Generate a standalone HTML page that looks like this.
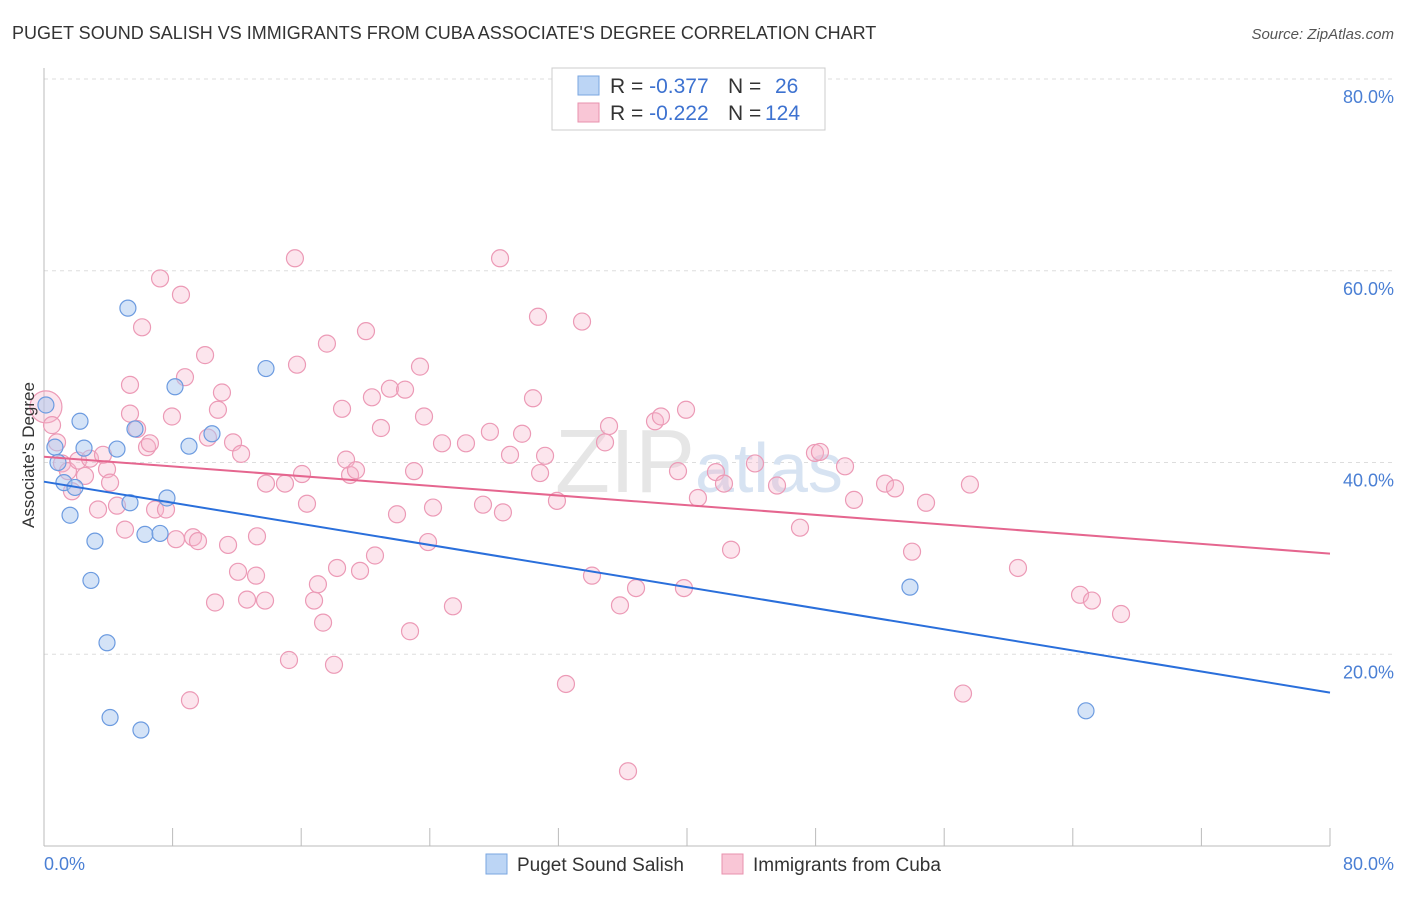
<!DOCTYPE html>
<html><head><meta charset="utf-8"><style>
body{margin:0;background:#fff;font-family:"Liberation Sans",sans-serif;}
svg text{font-family:"Liberation Sans",sans-serif;}
</style></head><body>
<svg width="1406" height="892" viewBox="0 0 1406 892">
<text x="12" y="39" font-size="18" fill="#333">PUGET SOUND SALISH VS IMMIGRANTS FROM CUBA ASSOCIATE'S DEGREE CORRELATION CHART</text>
<text x="1394" y="39" font-size="15" fill="#555" font-style="italic" text-anchor="end">Source: ZipAtlas.com</text>
<g id="grid"></g>
<text x="555" y="492" font-size="90" fill="#e6e6e6" font-family="Liberation Serif">ZIP<tspan fill="#d7e3f2" font-family="Liberation Sans" font-size="70">atlas</tspan></text>
<g id="pts"></g>
<g id="trend"></g>
<text x="34" y="455" font-size="17" fill="#333" text-anchor="middle" transform="rotate(-90 34 455)">Associate's Degree</text>
<text x="44" y="870" font-size="18" fill="#4a7fd4">0.0%</text>
<text x="1394" y="870" font-size="18" fill="#4a7fd4" text-anchor="end">80.0%</text>
<g>
<rect x="552" y="68" width="273" height="62" fill="#fff" stroke="#ccc"/>
<rect x="578" y="76" width="21" height="19" fill="#bcd5f5" stroke="#7aa6e0"/>
<rect x="578" y="103" width="21" height="19" fill="#f9c6d6" stroke="#e892ae"/>
<text x="610" y="93" font-size="21" fill="#333">R = <tspan fill="#3d72d0">-0.377</tspan><tspan x="728">N = </tspan><tspan x="775" fill="#3d72d0">26</tspan></text>
<text x="610" y="120" font-size="21" fill="#333">R = <tspan fill="#3d72d0">-0.222</tspan><tspan x="728">N = </tspan><tspan x="765" fill="#3d72d0">124</tspan></text>
</g>
<g>
<rect x="486" y="854" width="21" height="20" fill="#bcd5f5" stroke="#7aa6e0"/>
<text x="517" y="871" font-size="19" fill="#333">Puget Sound Salish</text>
<rect x="722" y="854" width="21" height="20" fill="#f9c6d6" stroke="#e892ae"/>
<text x="753" y="871" font-size="19" fill="#333">Immigrants from Cuba</text>
</g>
</svg>
<script>
const yTicks=[20,40,60,80];
const blueX=[0.12,0.68,0.87,1.24,1.62,1.93,2.24,2.49,2.92,3.17,3.92,4.11,4.54,5.22,5.35,5.66,6.03,6.28,7.22,7.65,8.15,9.02,10.45,13.81,53.87,64.82];
const blueY=[46.0,41.6,40.0,37.9,34.5,37.4,44.3,41.5,27.7,31.8,21.2,13.4,41.4,56.1,35.8,43.5,12.1,32.5,32.6,36.3,47.9,41.7,43.0,49.8,27.0,14.1];
const pinkX=[0.12,0.5,0.81,1.12,1.49,1.74,2.12,2.55,2.86,3.36,3.67,3.92,4.11,4.54,5.04,5.35,5.35,5.79,6.1,6.41,6.59,6.91,7.22,7.59,7.96,8.21,8.52,8.77,9.08,9.27,9.58,10.02,10.2,10.64,10.82,11.07,11.45,11.76,12.07,12.26,12.63,13.19,13.25,13.75,13.81,14.99,15.24,15.61,15.74,16.05,16.36,16.8,17.04,17.36,17.6,18.04,18.23,18.54,18.79,19.04,19.41,19.66,20.03,20.4,20.59,20.96,21.52,21.96,22.46,22.77,23.02,23.39,23.64,23.89,24.2,24.76,25.44,26.25,27.31,27.74,28.37,28.55,28.99,29.74,30.42,30.73,30.86,31.17,31.91,32.47,33.47,34.09,34.9,35.15,35.83,36.33,36.83,38.01,38.38,39.44,39.81,39.94,40.68,41.8,42.3,42.74,44.23,45.6,47.03,47.96,48.27,49.83,50.39,52.32,52.94,54.0,54.87,57.17,57.6,60.59,64.45,65.19,67.0];
const pinkY=[45.8,43.9,42.1,39.9,39.1,37.0,40.2,38.6,40.4,35.1,40.8,39.3,37.9,35.5,33.0,48.1,45.1,43.5,54.1,41.6,42.0,35.1,59.2,35.1,44.8,32.0,57.5,48.9,15.2,32.2,31.8,51.2,42.6,25.4,45.5,47.3,31.4,42.1,28.6,40.9,25.7,28.2,32.3,25.6,37.8,37.8,19.4,61.3,50.2,38.8,35.7,25.6,27.3,23.3,52.4,18.9,29.0,45.6,40.3,38.7,39.2,28.7,53.7,46.8,30.3,43.6,47.7,34.6,47.6,22.4,39.1,50.0,44.8,31.7,35.3,42.0,25.0,42.0,35.6,43.2,61.3,34.8,40.8,43.0,46.7,55.2,38.9,40.7,36.0,16.9,54.7,28.2,42.1,43.8,25.1,7.8,26.9,44.3,44.8,39.1,26.9,45.5,36.3,39.0,37.8,30.9,39.9,37.6,33.2,41.0,41.1,39.6,36.1,37.8,37.3,30.7,35.8,15.9,37.7,29.0,26.2,25.6,24.2];
const trendBlue=[38.0,16.0];
const trendPink=[40.6,30.5];
const X0=44,X1=1330,Y0=846,Y80=79;
const sx=v=>X0+(X1-X0)*v/80;
const sy=v=>Y0+(Y80-Y0)*v/80;
const NS='http://www.w3.org/2000/svg';
function mk(tag,attrs,parent){const e=document.createElementNS(NS,tag);for(const k in attrs)e.setAttribute(k,attrs[k]);parent.appendChild(e);return e;}
const grid=document.getElementById('grid');
yTicks.forEach(t=>{
 const l=mk('line',{x1:X0,x2:1394,y1:sy(t),y2:sy(t),stroke:'#ddd','stroke-dasharray':'4 4'},grid);
 
 
 const tx=mk('text',{x:1394,y:sy(t)+24,'font-size':18,fill:'#4a7fd4','text-anchor':'end'},grid);
 tx.textContent=t.toFixed(1)+'%';
 
 
});
const ax=mk('line',{x1:X0,x2:X0,y1:68,y2:Y0,stroke:'#bbb'},grid);


const bx=mk('line',{x1:X0,x2:X1,y1:Y0,y2:Y0,stroke:'#bbb'},grid);


for(let i=0;i<=10;i++){
 const t=mk('line',{x1:sx(i*8),x2:sx(i*8),y1:Y0,y2:828,stroke:'#bbb'},grid);
 
 
}
const pts=document.getElementById('pts');
pinkX.forEach((x,i)=>{
 const c=mk('circle',{cx:sx(x),cy:sy(pinkY[i]),r:i==0?16:8.5,fill:'rgba(246,180,202,0.35)',stroke:'#ec9ab6','stroke-width':1.2},pts);
 
 
});
blueX.forEach((x,i)=>{
 const c=mk('circle',{cx:sx(x),cy:sy(blueY[i]),r:8,fill:'rgba(170,200,240,0.5)',stroke:'#6c9be0','stroke-width':1.2},pts);
 
 
});
const tr=document.getElementById('trend');
const lb=mk('line',{x1:sx(0),y1:sy(trendBlue[0]),x2:sx(80),y2:sy(trendBlue[1]),stroke:'#2a6fdb','stroke-width':2},tr);


const lp=mk('line',{x1:sx(0),y1:sy(trendPink[0]),x2:sx(80),y2:sy(trendPink[1]),stroke:'#e5668f','stroke-width':2},tr);


</script>
</body></html>
